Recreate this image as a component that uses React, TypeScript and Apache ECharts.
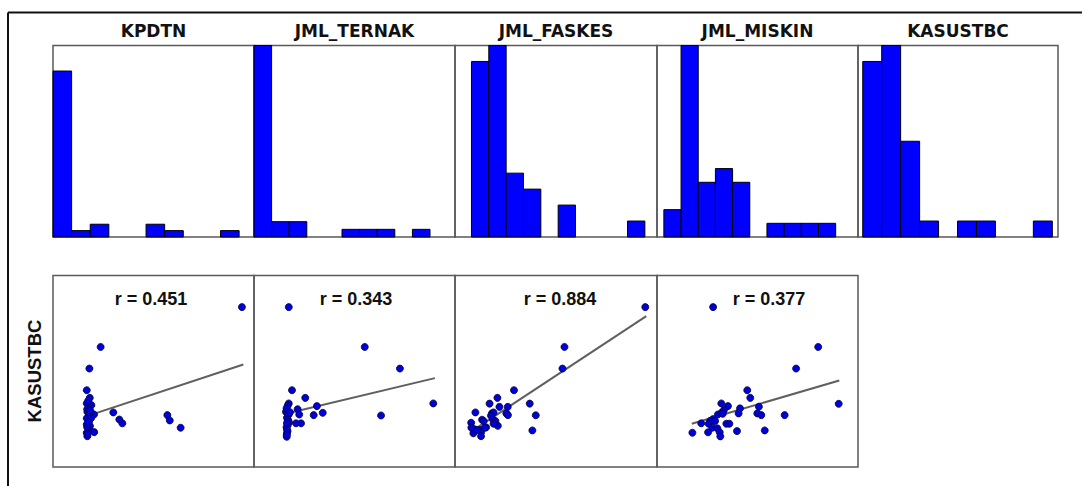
import React, { useEffect, useRef } from "react";
import * as echarts from "echarts";

// ---------- data ----------
const histTitles = ["KPDTN", "JML_TERNAK", "JML_FASKES", "JML_MISKIN", "KASUSTBC"];

// bin counts (10 bins each)
const histKPDTN = [26, 1, 2, 0, 0, 2, 1, 0, 0, 1];
const histTernak = [25, 2, 2, 0, 0, 1, 1, 1, 0, 1];
const histFaskes = [11, 12, 4, 3, 0, 2, 0, 0, 0, 1];
const histMiskin = [2, 14, 4, 5, 4, 0, 1, 1, 1, 1];
const histKasus = [11, 12, 6, 1, 0, 1, 1, 0, 0, 1];
const histCounts = [histKPDTN, histTernak, histFaskes, histMiskin, histKasus];

// axis ranges of each histogram panel (in bin units / counts)
const histXMin = [0, 0, -0.95, -0.4, -0.25];
const histXMax = [10.8, 11.42, 10.7, 11.3, 10.3];
const histYMax = [30, 25, 12, 14, 12];

// scatter: [x, KASUSTBC] in panel-relative units (0-100)
const scatterKPDTN = [
  [94.0, 83.5], [23.7, 62.7], [18.1, 51.4], [16.8, 40.1], [18.3, 36.1], [16.8, 33.2],
  [19.1, 32.3], [17.8, 31.1], [17.1, 28.8], [19.3, 28.0], [20.4, 27.4], [17.9, 27.1],
  [16.8, 25.4], [17.9, 23.6], [16.8, 22.2], [18.1, 19.6], [20.5, 18.2], [16.8, 17.9],
  [17.1, 16.1], [30.0, 28.5], [33.0, 24.8], [34.5, 22.8], [56.9, 27.1], [58.1, 24.3],
  [63.5, 20.5], [17.0, 30.2], [17.5, 34.6], [18.4, 21.4], [17.0, 20.8], [18.9, 25.5],
  [17.2, 17.2], [18.4, 29.7], [17.5, 23.4],
];
const scatterTernak = [
  [17.3, 83.5], [55.1, 62.7], [72.6, 51.4], [18.9, 40.1], [25.5, 36.1], [89.2, 33.2],
  [17.3, 33.2], [16.8, 32.1], [31.3, 31.8], [21.7, 30.2], [22.5, 27.4], [29.7, 27.1],
  [34.2, 28.3], [15.9, 28.8], [17.3, 27.4], [16.4, 25.7], [16.8, 24.0], [20.9, 22.8],
  [23.4, 22.8], [16.8, 21.9], [16.4, 19.6], [16.4, 17.6], [16.3, 15.8], [63.2, 26.9],
  [16.2, 30.7], [16.9, 24.7], [16.2, 20.8], [16.7, 18.75], [17.1, 28.1], [17.4, 23.4],
  [16.3, 16.7], [17.9, 28.6], [16.4, 22.9],
];
const scatterFaskes = [
  [94.2, 83.5], [54.2, 62.7], [53.2, 51.4], [29.2, 40.1], [21.0, 36.1], [17.1, 33.1],
  [37.0, 33.1], [22.0, 31.4], [26.1, 31.4], [10.1, 28.5], [18.3, 28.0], [19.1, 28.5],
  [25.4, 28.0], [26.2, 27.1], [40.0, 27.0], [13.4, 24.7], [18.8, 24.8], [20.0, 24.0],
  [8.0, 23.1], [21.2, 21.5], [15.4, 20.7], [9.3, 19.8], [12.4, 19.3], [38.3, 19.1],
  [9.1, 17.6], [12.9, 18.1], [12.9, 16.1], [17.8, 26.8], [14.8, 20.5], [10.8, 19.4],
  [19.1, 22.6], [8.1, 20.5], [14.2, 24.0],
];
const scatterMiskin = [
  [27.9, 83.5], [80.2, 62.7], [69.2, 51.4], [44.9, 40.1], [46.4, 36.1], [90.4, 33.0],
  [32.0, 33.2], [35.3, 31.8], [50.7, 31.5], [41.3, 30.6], [30.3, 27.4], [32.0, 28.3],
  [40.6, 28.0], [49.9, 28.0], [51.9, 27.1], [63.5, 27.1], [27.9, 25.0], [26.5, 24.1],
  [22.0, 22.8], [25.7, 22.6], [34.5, 22.6], [36.0, 22.6], [27.5, 20.5], [30.0, 20.2],
  [39.8, 18.75], [53.6, 19.1], [17.6, 17.9], [25.4, 18.1], [31.2, 18.1], [31.5, 16.0],
  [28.9, 24.0], [33.3, 29.7], [32.7, 27.8],
];
const scatterData = [scatterKPDTN, scatterTernak, scatterFaskes, scatterMiskin];

const rValues = ["0.451", "0.343", "0.884", "0.377"];
// fitted line end points
const fitKPDTN = [[18.4, 27.1], [94.7, 53.5]];
const fitTernak = [[17.9, 28.3], [90.0, 46.4]];
const fitFaskes = [[8.7, 19.0], [94.7, 78.8]];
const fitMiskin = [[17.3, 22.6], [90.7, 45.2]];
const fitLines = [fitKPDTN, fitTernak, fitFaskes, fitMiskin];

const rowLabel = "KASUSTBC";

// ---------- layout ----------
const BOUNDS = [53, 254, 455, 657, 858, 1058];
const HIST_TOP = 45.5;
const HIST_H = 191.5;
const SCAT_TOP = 275.5;
const SCAT_H = 191.5;
const R_LABEL_X = [151, 356, 560, 769];

export default function App() {
  const ref = useRef<HTMLDivElement>(null);

  useEffect(() => {
    if (!ref.current) return;
    const chart = echarts.init(ref.current, undefined, { renderer: "svg" });

    const grids: any[] = [];
    const xAxes: any[] = [];
    const yAxes: any[] = [];
    const series: any[] = [];
    const graphics: any[] = [];

    const hiddenAxis = {
      show: false,
      splitLine: { show: false },
      axisLine: { show: false },
      axisTick: { show: false },
      axisLabel: { show: false },
    };
    const frame = { show: true, borderColor: "#5a5a5a", borderWidth: 1.5, backgroundColor: "transparent" };

    // histograms
    histCounts.forEach((counts, i) => {
      const left = BOUNDS[i];
      const w = BOUNDS[i + 1] - BOUNDS[i];
      grids.push({ left, top: HIST_TOP, width: w, height: HIST_H, ...frame });
      xAxes.push({ type: "value", gridIndex: i, min: histXMin[i], max: histXMax[i], ...hiddenAxis });
      yAxes.push({ type: "value", gridIndex: i, min: 0, max: histYMax[i], ...hiddenAxis });
      series.push({
        type: "custom",
        xAxisIndex: i,
        yAxisIndex: i,
        data: counts.map((c, k) => [k, k + 1, c]).filter((d) => d[2] > 0),
        renderItem: (params: any, api: any) => {
          const p0 = api.coord([api.value(0), api.value(2)]);
          const p1 = api.coord([api.value(1), 0]);
          return {
            type: "rect",
            shape: { x: p0[0], y: p0[1], width: p1[0] - p0[0], height: p1[1] - p0[1] },
            style: { fill: "#0000ff", stroke: "#000000", lineWidth: 1 },
          };
        },
      });
      graphics.push({
        type: "text",
        x: left + w / 2,
        y: 31,
        style: {
          text: histTitles[i],
          font: "bold 17px 'DejaVu Sans'",
          fill: "#111",
          textAlign: "center",
          textVerticalAlign: "middle",
        },
      });
    });

    // scatter panels
    scatterData.forEach((pts, j) => {
      const gi = 5 + j;
      const left = BOUNDS[j];
      const w = BOUNDS[j + 1] - BOUNDS[j];
      grids.push({ left, top: SCAT_TOP, width: w, height: SCAT_H, ...frame });
      xAxes.push({ type: "value", gridIndex: gi, min: 0, max: 100, ...hiddenAxis });
      yAxes.push({ type: "value", gridIndex: gi, min: 0, max: 100, ...hiddenAxis });
      series.push({
        type: "line",
        xAxisIndex: gi,
        yAxisIndex: gi,
        data: fitLines[j],
        symbol: "none",
        lineStyle: { color: "#5f5f5f", width: 2 },
        z: 2,
      });
      series.push({
        type: "scatter",
        xAxisIndex: gi,
        yAxisIndex: gi,
        data: pts,
        symbol: "circle",
        symbolSize: 7,
        itemStyle: { color: "#0000d8", borderColor: "#000040", borderWidth: 0.8, opacity: 1 },
        z: 3,
      });
      graphics.push({
        type: "text",
        x: R_LABEL_X[j],
        y: 298.5,
        style: {
          text: "r = " + rValues[j],
          font: "bold 18px 'Liberation Sans'",
          fill: "#111",
          textAlign: "center",
          textVerticalAlign: "middle",
        },
      });
    });

    graphics.push({
      type: "text",
      x: 34,
      y: 371,
      rotation: Math.PI / 2,
      style: {
        text: rowLabel,
        font: "bold 18.5px 'Liberation Sans'",
        fill: "#111",
        textAlign: "center",
        textVerticalAlign: "middle",
      },
    });
    // outer frame (top and left edges)
    graphics.push({
      type: "line",
      shape: { x1: 8, y1: 12.5, x2: 1082, y2: 12.5 },
      style: { stroke: "#111", lineWidth: 2 },
    });
    graphics.push({
      type: "line",
      shape: { x1: 8, y1: 12.5, x2: 8, y2: 486 },
      style: { stroke: "#111", lineWidth: 2 },
    });

    chart.setOption({
      animation: false,
      backgroundColor: "#ffffff",
      grid: grids,
      xAxis: xAxes,
      yAxis: yAxes,
      series,
      graphic: graphics,
    });

    return () => chart.dispose();
  }, []);

  return (
    <div
      ref={ref}
      style={{ position: "fixed", left: 0, top: 0, width: 1082, height: 486 }}
    />
  );
}
